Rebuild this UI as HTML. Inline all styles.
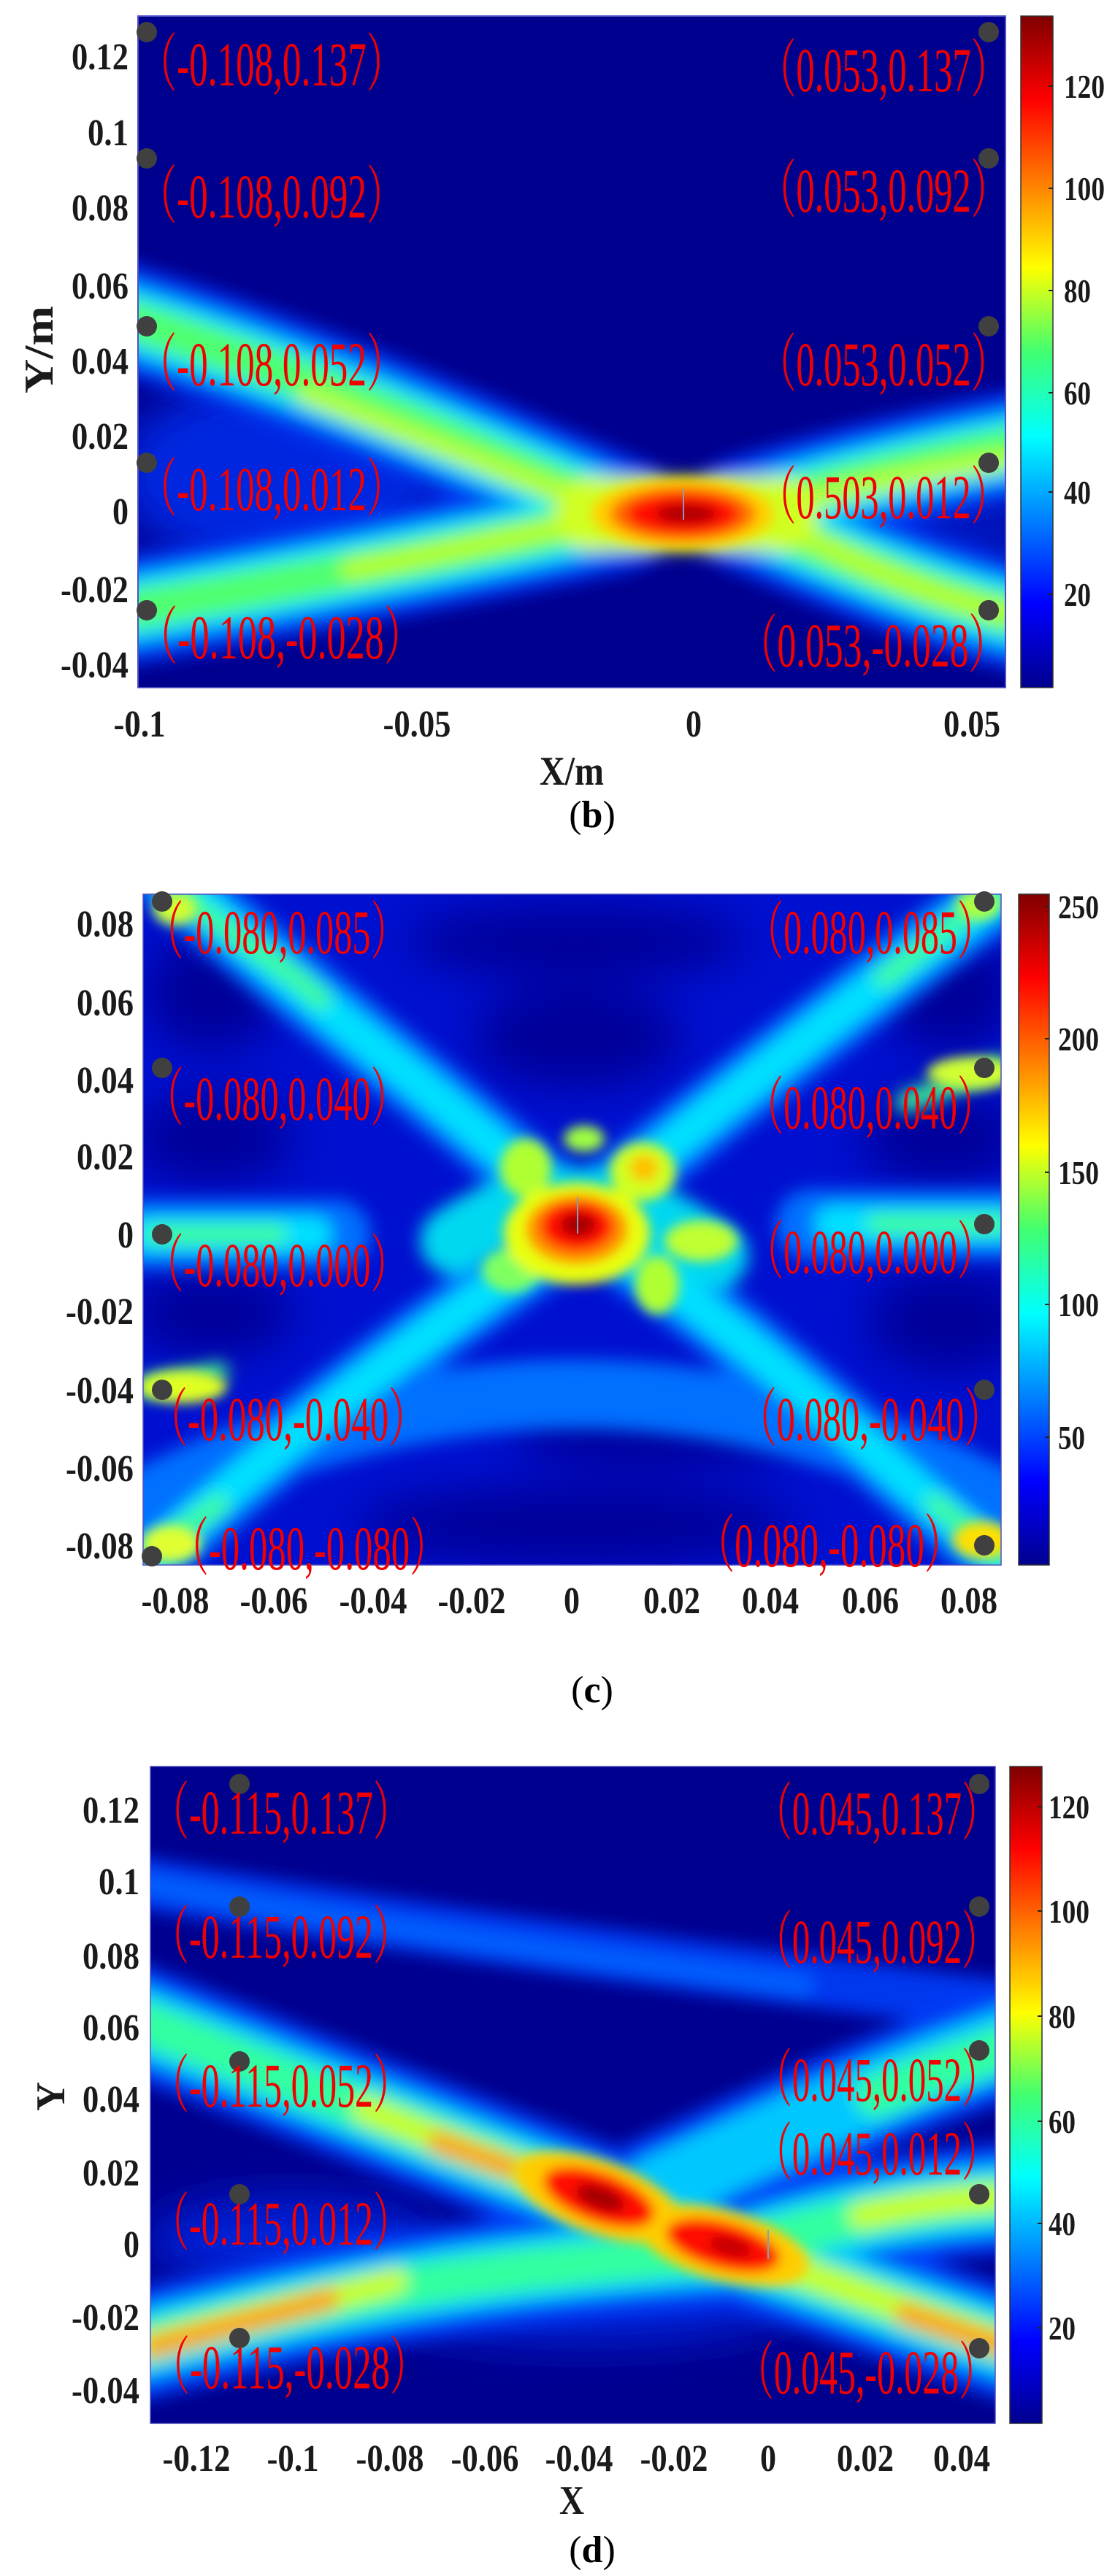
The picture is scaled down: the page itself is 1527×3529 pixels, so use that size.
<!DOCTYPE html>
<html><head><meta charset="utf-8"><style>
html,body{margin:0;padding:0;background:#fff;}
svg{display:block;}
.tk{font-family:"Liberation Serif",serif;font-weight:bold;font-size:52px;fill:#1a1a1a;}
.cb{font-family:"Liberation Serif",serif;font-weight:bold;font-size:46px;fill:#1a1a1a;}
.rl{font-family:"Liberation Serif","Noto Serif CJK SC",serif;font-size:86px;fill:#f00000;}
.ax{font-family:"Liberation Serif",serif;font-weight:bold;font-size:56px;fill:#1a1a1a;}
.cap{font-family:"Liberation Serif",serif;font-size:52px;fill:#000;}
</style></head><body>
<svg width="1527" height="3529" viewBox="0 0 1527 3529" xmlns="http://www.w3.org/2000/svg">
<defs>
<filter id="bl" x="-20%" y="-20%" width="140%" height="140%"><feGaussianBlur stdDeviation="12"/></filter>
<filter id="bl2" x="-50%" y="-50%" width="200%" height="200%"><feGaussianBlur stdDeviation="30"/></filter>
<filter id="bl3" x="-50%" y="-50%" width="200%" height="200%"><feGaussianBlur stdDeviation="8"/></filter>
<clipPath id="cpb"><rect x="189" y="22" width="1188" height="920"/></clipPath>
<clipPath id="cpc"><rect x="196" y="1225" width="1175" height="919"/></clipPath>
<clipPath id="cpd"><rect x="206" y="2420" width="1157" height="900"/></clipPath>
<linearGradient id="jet" x1="0" y1="1" x2="0" y2="0">
<stop offset="0" stop-color="#00008f"/><stop offset="0.125" stop-color="#0000ff"/>
<stop offset="0.375" stop-color="#00ffff"/><stop offset="0.5" stop-color="#40ff70"/><stop offset="0.625" stop-color="#ffff00"/>
<stop offset="0.875" stop-color="#ff0000"/><stop offset="1" stop-color="#800000"/></linearGradient>
</defs>

<!-- ===== PANEL B ===== -->
<g clip-path="url(#cpb)">
<rect x="189" y="22" width="1188" height="920" fill="#00008f"/>
<g filter="url(#bl2)"><ellipse cx="380" cy="650" rx="220" ry="130" fill="#0028e0"/><ellipse cx="1250" cy="730" rx="160" ry="90" fill="#0018c0"/></g>
<g filter="url(#bl)" fill="none" stroke-linecap="round">
<g stroke="#0030f0" stroke-width="150"><path d="M150,430 C450,520 700,640 850,700"/><path d="M150,840 C450,790 700,740 850,708"/><path d="M1020,700 C1150,660 1280,630 1420,605"/><path d="M1020,708 C1150,760 1280,820 1420,850"/></g>
<g stroke="#0090ff" stroke-width="105"><path d="M150,430 C450,520 700,640 850,700"/><path d="M150,840 C450,790 700,740 850,708"/><path d="M1020,700 C1150,660 1280,630 1420,605"/><path d="M1020,708 C1150,760 1280,820 1420,850"/></g>
<g stroke="#00e8ff" stroke-width="78"><path d="M150,430 C450,520 700,640 850,700"/><path d="M150,840 C450,790 700,740 850,708"/><path d="M1020,700 C1150,660 1280,630 1420,605"/><path d="M1020,708 C1150,760 1280,820 1420,850"/></g>
<g stroke="#50ff70" stroke-width="55"><path d="M150,430 C450,520 700,640 850,700"/><path d="M150,840 C450,790 700,740 850,708"/><path d="M1020,700 C1150,660 1280,630 1420,605"/><path d="M1020,708 C1150,760 1280,820 1420,850"/></g>
<g stroke="#b8ff28" stroke-width="28"><path d="M420,540 C600,610 720,660 850,700"/><path d="M480,780 C600,760 720,730 850,708"/><path d="M1050,700 C1150,670 1250,650 1377,630"/><path d="M1050,708 C1150,760 1250,810 1377,840"/></g>
<path d="M810,704 L1070,704" stroke="#d0ff20" stroke-width="100"/>
</g>
<g filter="url(#bl3)">
<ellipse cx="935" cy="704" rx="125" ry="48" fill="#ffd000"/>
<ellipse cx="935" cy="704" rx="100" ry="38" fill="#ff7000"/>
<ellipse cx="935" cy="704" rx="78" ry="28" fill="#ff1000"/>
<ellipse cx="940" cy="704" rx="42" ry="14" fill="#b00000"/>
</g>
<line x1="936" y1="670" x2="936" y2="712" stroke="#7fa0c0" stroke-width="2"/>
</g>
<rect x="189" y="22" width="1188" height="920" fill="none" stroke="#5050c0" stroke-width="2"/>
<g fill="#404040">
<circle cx="201" cy="44" r="14"/><circle cx="201" cy="217" r="14"/><circle cx="201" cy="447" r="14"/><circle cx="201" cy="634" r="14"/><circle cx="201" cy="836" r="14"/>
<circle cx="1354" cy="44" r="14"/><circle cx="1354" cy="217" r="14"/><circle cx="1354" cy="447" r="14"/><circle cx="1354" cy="634" r="14"/><circle cx="1354" cy="836" r="14"/>
</g>
<g class="rl" >
<text x="191" y="117" textLength="362" lengthAdjust="spacingAndGlyphs">（-0.108,0.137）</text>
<text x="191" y="298" textLength="362" lengthAdjust="spacingAndGlyphs">（-0.108,0.092）</text>
<text x="191" y="528" textLength="362" lengthAdjust="spacingAndGlyphs">（-0.108,0.052）</text>
<text x="191" y="699" textLength="362" lengthAdjust="spacingAndGlyphs">（-0.108,0.012）</text>
<text x="191" y="902" textLength="387" lengthAdjust="spacingAndGlyphs">（-0.108,-0.028）</text>
<text x="1040" y="125" textLength="340" lengthAdjust="spacingAndGlyphs">（0.053,0.137）</text>
<text x="1040" y="290" textLength="340" lengthAdjust="spacingAndGlyphs">（0.053,0.092）</text>
<text x="1040" y="528" textLength="340" lengthAdjust="spacingAndGlyphs">（0.053,0.052）</text>
<text x="1040" y="710" textLength="340" lengthAdjust="spacingAndGlyphs">（0.503,0.012）</text>
<text x="1013" y="913" textLength="365" lengthAdjust="spacingAndGlyphs">（0.053,-0.028）</text>
</g>
<g class="tk" text-anchor="end">
<text x="176" y="95" textLength="78" lengthAdjust="spacingAndGlyphs">0.12</text>
<text x="176" y="199" textLength="56" lengthAdjust="spacingAndGlyphs">0.1</text>
<text x="176" y="302" textLength="78" lengthAdjust="spacingAndGlyphs">0.08</text>
<text x="176" y="409" textLength="78" lengthAdjust="spacingAndGlyphs">0.06</text>
<text x="176" y="512" textLength="78" lengthAdjust="spacingAndGlyphs">0.04</text>
<text x="176" y="615" textLength="78" lengthAdjust="spacingAndGlyphs">0.02</text>
<text x="176" y="718" textLength="22" lengthAdjust="spacingAndGlyphs">0</text>
<text x="176" y="825" textLength="93" lengthAdjust="spacingAndGlyphs">-0.02</text>
<text x="176" y="928" textLength="93" lengthAdjust="spacingAndGlyphs">-0.04</text>
</g>
<g class="tk" text-anchor="middle">
<text x="191" y="1009" textLength="71" lengthAdjust="spacingAndGlyphs">-0.1</text>
<text x="571" y="1009" textLength="93" lengthAdjust="spacingAndGlyphs">-0.05</text>
<text x="950" y="1009" textLength="22" lengthAdjust="spacingAndGlyphs">0</text>
<text x="1331" y="1009" textLength="78" lengthAdjust="spacingAndGlyphs">0.05</text>
</g>
<text class="ax" x="783" y="1075" text-anchor="middle" textLength="88" lengthAdjust="spacingAndGlyphs">X/m</text>
<text class="ax" transform="translate(72,479) rotate(-90)" text-anchor="middle" textLength="120" lengthAdjust="spacingAndGlyphs">Y/m</text>
<text class="cap" x="811" y="1133" text-anchor="middle">(<tspan font-weight="bold">b</tspan>)</text>
<rect x="1398" y="22" width="44" height="920" fill="url(#jet)" stroke="#333" stroke-width="1.5"/>
<g stroke="#222" stroke-width="2"><line x1="1436" x2="1442" y1="118" y2="118"/><line x1="1436" x2="1442" y1="258" y2="258"/><line x1="1436" x2="1442" y1="398" y2="398"/><line x1="1436" x2="1442" y1="538" y2="538"/><line x1="1436" x2="1442" y1="674" y2="674"/><line x1="1436" x2="1442" y1="814" y2="814"/></g>
<g class="cb">
<text x="1457" y="134" textLength="56" lengthAdjust="spacingAndGlyphs">120</text>
<text x="1457" y="274" textLength="56" lengthAdjust="spacingAndGlyphs">100</text>
<text x="1457" y="414" textLength="37" lengthAdjust="spacingAndGlyphs">80</text>
<text x="1457" y="554" textLength="37" lengthAdjust="spacingAndGlyphs">60</text>
<text x="1457" y="690" textLength="37" lengthAdjust="spacingAndGlyphs">40</text>
<text x="1457" y="830" textLength="37" lengthAdjust="spacingAndGlyphs">20</text>
</g>

<!-- ===== PANEL C ===== -->
<g clip-path="url(#cpc)">
<rect x="196" y="1225" width="1175" height="919" fill="#0010d0"/>
<g filter="url(#bl2)" fill="#00009a">
<ellipse cx="790" cy="1290" rx="230" ry="50"/><ellipse cx="790" cy="1420" rx="140" ry="70"/>
<ellipse cx="290" cy="1560" rx="110" ry="60"/><ellipse cx="290" cy="1360" rx="90" ry="80"/>
<ellipse cx="1290" cy="1560" rx="110" ry="60"/><ellipse cx="1300" cy="1360" rx="90" ry="80"/>
<ellipse cx="290" cy="1800" rx="110" ry="60"/><ellipse cx="1300" cy="1810" rx="110" ry="70"/>
<ellipse cx="790" cy="2090" rx="300" ry="55"/><ellipse cx="900" cy="1960" rx="200" ry="50"/>
</g>
<g filter="url(#bl)" fill="none" stroke-linecap="round">
<g stroke="#0070ff" stroke-width="95"><path d="M230,1200 C400,1350 600,1500 760,1640"/><path d="M1400,1200 C1200,1350 1000,1500 830,1640"/><path d="M180,2160 C350,2000 550,1850 740,1720"/><path d="M1400,2160 C1200,2000 1050,1850 860,1720"/><path d="M196,1691 L460,1691"/><path d="M1110,1677 L1380,1677"/><path d="M196,2060 Q790,1760 1371,2060"/></g>
<g stroke="#00e0ff" stroke-width="50"><path d="M230,1200 C400,1350 600,1500 760,1640"/><path d="M1400,1200 C1200,1350 1000,1500 830,1640"/><path d="M180,2160 C350,2000 550,1850 740,1720"/><path d="M1400,2160 C1200,2000 1050,1850 860,1720"/><path d="M196,1691 L430,1691"/><path d="M1140,1677 L1380,1677"/></g>
<g stroke="#40ff90" stroke-width="26"><path d="M240,1220 C330,1290 400,1330 440,1370"/><path d="M1360,1220 C1300,1270 1250,1310 1210,1340"/><path d="M210,1691 L380,1691"/><path d="M1200,1677 L1371,1677"/><path d="M1371,1460 L1240,1510"/><path d="M200,1900 L300,1880"/><path d="M200,2130 L300,2060"/><path d="M1371,2130 L1280,2060"/></g>
<path d="M620,1700 Q790,1580 980,1720" stroke="#00d8f0" stroke-width="90"/>
</g>
<g filter="url(#bl3)">
<ellipse cx="720" cy="1600" rx="35" ry="40" fill="#b0ff30"/>
<ellipse cx="800" cy="1560" rx="28" ry="18" fill="#a0ff40"/>
<ellipse cx="880" cy="1605" rx="45" ry="40" fill="#d0ff20"/>
<ellipse cx="882" cy="1600" rx="20" ry="18" fill="#ffc000"/>
<ellipse cx="960" cy="1700" rx="50" ry="28" fill="#c0ff30"/>
<ellipse cx="700" cy="1740" rx="40" ry="30" fill="#80ff60"/>
<ellipse cx="900" cy="1760" rx="30" ry="40" fill="#b0ff30"/>
<ellipse cx="790" cy="1690" rx="100" ry="70" fill="#e8ff10"/>
<ellipse cx="790" cy="1684" rx="70" ry="48" fill="#ff9000"/>
<ellipse cx="790" cy="1680" rx="50" ry="34" fill="#ff1000"/>
<ellipse cx="792" cy="1678" rx="24" ry="16" fill="#a00000"/>
<ellipse cx="250" cy="1900" rx="60" ry="22" fill="#e0ff20"/>
<ellipse cx="1330" cy="1470" rx="60" ry="22" fill="#d0ff30"/>
<ellipse cx="240" cy="1245" rx="30" ry="22" fill="#d0ff30"/>
<ellipse cx="235" cy="2115" rx="40" ry="25" fill="#e0ff30"/>
<ellipse cx="1345" cy="2110" rx="40" ry="25" fill="#ffe000"/>
<ellipse cx="1340" cy="1240" rx="30" ry="20" fill="#b0ff40"/>
</g>
<line x1="791" y1="1640" x2="791" y2="1690" stroke="#7fa0c0" stroke-width="2"/>
</g>
<rect x="196" y="1225" width="1175" height="919" fill="none" stroke="#5050c0" stroke-width="1.5"/>
<g fill="#404040">
<circle cx="222" cy="1235" r="14"/><circle cx="222" cy="1463" r="14"/><circle cx="222" cy="1691" r="14"/><circle cx="222" cy="1904" r="14"/><circle cx="208" cy="2132" r="14"/>
<circle cx="1348" cy="1235" r="14"/><circle cx="1348" cy="1463" r="14"/><circle cx="1348" cy="1677" r="14"/><circle cx="1348" cy="1904" r="14"/><circle cx="1348" cy="2117" r="14"/>
</g>
<g class="rl">
<text x="201" y="1306" textLength="357" lengthAdjust="spacingAndGlyphs">（-0.080,0.085）</text>
<text x="201" y="1534" textLength="357" lengthAdjust="spacingAndGlyphs">（-0.080,0.040）</text>
<text x="201" y="1762" textLength="357" lengthAdjust="spacingAndGlyphs">（-0.080,0.000）</text>
<text x="206" y="1973" textLength="377" lengthAdjust="spacingAndGlyphs">（-0.080,-0.040）</text>
<text x="235" y="2150" textLength="377" lengthAdjust="spacingAndGlyphs">（-0.080,-0.080）</text>
<text x="1023" y="1306" textLength="338" lengthAdjust="spacingAndGlyphs">（0.080,0.085）</text>
<text x="1023" y="1546" textLength="338" lengthAdjust="spacingAndGlyphs">（0.080,0.040）</text>
<text x="1023" y="1744" textLength="338" lengthAdjust="spacingAndGlyphs">（0.080,0.000）</text>
<text x="1013" y="1973" textLength="358" lengthAdjust="spacingAndGlyphs">（0.080,-0.040）</text>
<text x="955" y="2146" textLength="362" lengthAdjust="spacingAndGlyphs">（0.080,-0.080）</text>
</g>
<g class="tk" text-anchor="end">
<text x="183" y="1283" textLength="78" lengthAdjust="spacingAndGlyphs">0.08</text>
<text x="183" y="1391" textLength="78" lengthAdjust="spacingAndGlyphs">0.06</text>
<text x="183" y="1497" textLength="78" lengthAdjust="spacingAndGlyphs">0.04</text>
<text x="183" y="1602" textLength="78" lengthAdjust="spacingAndGlyphs">0.02</text>
<text x="183" y="1709" textLength="22" lengthAdjust="spacingAndGlyphs">0</text>
<text x="183" y="1814" textLength="93" lengthAdjust="spacingAndGlyphs">-0.02</text>
<text x="183" y="1922" textLength="93" lengthAdjust="spacingAndGlyphs">-0.04</text>
<text x="183" y="2029" textLength="93" lengthAdjust="spacingAndGlyphs">-0.06</text>
<text x="183" y="2135" textLength="93" lengthAdjust="spacingAndGlyphs">-0.08</text>
</g>
<g class="tk" text-anchor="middle">
<text x="240" y="2210" textLength="93" lengthAdjust="spacingAndGlyphs">-0.08</text>
<text x="375" y="2210" textLength="93" lengthAdjust="spacingAndGlyphs">-0.06</text>
<text x="511" y="2210" textLength="93" lengthAdjust="spacingAndGlyphs">-0.04</text>
<text x="646" y="2210" textLength="93" lengthAdjust="spacingAndGlyphs">-0.02</text>
<text x="783" y="2210" textLength="22" lengthAdjust="spacingAndGlyphs">0</text>
<text x="920" y="2210" textLength="78" lengthAdjust="spacingAndGlyphs">0.02</text>
<text x="1055" y="2210" textLength="78" lengthAdjust="spacingAndGlyphs">0.04</text>
<text x="1192" y="2210" textLength="78" lengthAdjust="spacingAndGlyphs">0.06</text>
<text x="1327" y="2210" textLength="78" lengthAdjust="spacingAndGlyphs">0.08</text>
</g>
<text class="cap" x="811" y="2332" text-anchor="middle">(<tspan font-weight="bold">c</tspan>)</text>
<rect x="1395" y="1225" width="42" height="919" fill="url(#jet)" stroke="#333" stroke-width="1.5"/>
<g stroke="#222" stroke-width="2"><line x1="1431" x2="1437" y1="1242" y2="1242"/><line x1="1431" x2="1437" y1="1423" y2="1423"/><line x1="1431" x2="1437" y1="1606" y2="1606"/><line x1="1431" x2="1437" y1="1787" y2="1787"/><line x1="1431" x2="1437" y1="1969" y2="1969"/></g>
<g class="cb">
<text x="1449" y="1258" textLength="56" lengthAdjust="spacingAndGlyphs">250</text>
<text x="1449" y="1439" textLength="56" lengthAdjust="spacingAndGlyphs">200</text>
<text x="1449" y="1622" textLength="56" lengthAdjust="spacingAndGlyphs">150</text>
<text x="1449" y="1803" textLength="56" lengthAdjust="spacingAndGlyphs">100</text>
<text x="1449" y="1985" textLength="37" lengthAdjust="spacingAndGlyphs">50</text>
</g>

<!-- ===== PANEL D ===== -->
<g clip-path="url(#cpd)">
<rect x="206" y="2420" width="1157" height="900" fill="#00008f"/>
<g filter="url(#bl2)" fill="#0020d8"><ellipse cx="400" cy="3070" rx="200" ry="60"/><ellipse cx="800" cy="3150" rx="300" ry="60"/></g>
<g filter="url(#bl)" fill="none" stroke-linecap="round">
<path d="M180,2577 C600,2650 1000,2700 1390,2750" stroke="#0038f0" stroke-width="70"/>
<path d="M180,2577 C500,2640 800,2680 1100,2720" stroke="#0060ff" stroke-width="30"/>
<g stroke="#0040f8" stroke-width="150"><path d="M180,2765 C400,2850 600,2930 818,3012"/><path d="M818,3012 L991,3078"/><path d="M991,3078 C1150,3130 1280,3180 1390,3215"/><path d="M180,3215 C400,3160 600,3110 991,3085"/><path d="M1390,2795 C1200,2860 1050,2930 900,3000"/><path d="M1390,3010 C1250,3020 1150,3040 1050,3070"/></g>
<g stroke="#00c8ff" stroke-width="95"><path d="M180,2765 C400,2850 600,2930 818,3012"/><path d="M818,3012 L991,3078"/><path d="M991,3078 C1150,3130 1280,3180 1390,3215"/><path d="M180,3215 C400,3160 600,3110 991,3085"/><path d="M1390,2795 C1200,2860 1050,2930 900,3000"/><path d="M1390,3010 C1250,3020 1150,3040 1050,3070"/></g>
<g stroke="#30ffa0" stroke-width="60"><path d="M180,2765 C400,2850 600,2930 818,3012"/><path d="M818,3012 L991,3078"/><path d="M991,3078 C1150,3130 1280,3180 1390,3215"/><path d="M180,3215 C400,3160 600,3110 991,3085"/><path d="M1390,2800 C1300,2830 1250,2850 1200,2870"/><path d="M1390,3010 C1250,3020 1150,3040 1050,3070"/></g>
<g stroke="#c8ff20" stroke-width="36"><path d="M500,2890 C600,2930 700,2970 818,3012"/><path d="M1060,3100 C1150,3130 1280,3180 1390,3215"/><path d="M200,3215 C350,3170 450,3150 540,3125"/><path d="M1363,3010 C1280,3015 1230,3025 1180,3035"/></g>
<g stroke="#ffa000" stroke-width="30"><path d="M210,3215 C300,3190 380,3170 450,3150"/><path d="M1240,3170 C1300,3190 1340,3205 1380,3215"/><path d="M600,2935 L700,2970"/></g>
</g>
<g filter="url(#bl3)">
<ellipse cx="820" cy="3010" rx="120" ry="50" transform="rotate(20 820 3010)" fill="#ffcc00"/>
<ellipse cx="990" cy="3076" rx="120" ry="48" transform="rotate(15 990 3076)" fill="#ffcc00"/>
<ellipse cx="820" cy="3010" rx="80" ry="34" transform="rotate(20 820 3010)" fill="#ff1000"/>
<ellipse cx="990" cy="3076" rx="80" ry="32" transform="rotate(15 990 3076)" fill="#ff1000"/>
<ellipse cx="822" cy="3011" rx="35" ry="15" transform="rotate(20 822 3011)" fill="#a00000"/>
<ellipse cx="1000" cy="3078" rx="30" ry="12" transform="rotate(15 1000 3078)" fill="#c00000"/>
</g>
<line x1="1052" y1="3055" x2="1052" y2="3095" stroke="#7fa0c0" stroke-width="2"/>
</g>
<rect x="206" y="2420" width="1157" height="900" fill="none" stroke="#5050c0" stroke-width="1.5"/>
<g fill="#404040">
<circle cx="328" cy="2444" r="14"/><circle cx="328" cy="2612" r="14"/><circle cx="328" cy="2824" r="14"/><circle cx="328" cy="3006" r="14"/><circle cx="328" cy="3203" r="14"/>
<circle cx="1341" cy="2444" r="14"/><circle cx="1341" cy="2612" r="14"/><circle cx="1341" cy="2809" r="14"/><circle cx="1341" cy="3006" r="14"/><circle cx="1341" cy="3217" r="14"/>
</g>
<g class="rl">
<text x="209" y="2512" textLength="352" lengthAdjust="spacingAndGlyphs">（-0.115,0.137）</text>
<text x="209" y="2682" textLength="352" lengthAdjust="spacingAndGlyphs">（-0.115,0.092）</text>
<text x="209" y="2886" textLength="352" lengthAdjust="spacingAndGlyphs">（-0.115,0.052）</text>
<text x="209" y="3075" textLength="352" lengthAdjust="spacingAndGlyphs">（-0.115,0.012）</text>
<text x="209" y="3272" textLength="376" lengthAdjust="spacingAndGlyphs">（-0.115,-0.028）</text>
<text x="1036" y="2513" textLength="330" lengthAdjust="spacingAndGlyphs">（0.045,0.137）</text>
<text x="1036" y="2689" textLength="330" lengthAdjust="spacingAndGlyphs">（0.045,0.092）</text>
<text x="1036" y="2878" textLength="330" lengthAdjust="spacingAndGlyphs">（0.045,0.052）</text>
<text x="1036" y="2979" textLength="330" lengthAdjust="spacingAndGlyphs">（0.045,0.012）</text>
<text x="1010" y="3279" textLength="353" lengthAdjust="spacingAndGlyphs">（0.045,-0.028）</text>
</g>
<g class="tk" text-anchor="end">
<text x="191" y="2497" textLength="78" lengthAdjust="spacingAndGlyphs">0.12</text>
<text x="191" y="2595" textLength="56" lengthAdjust="spacingAndGlyphs">0.1</text>
<text x="191" y="2697" textLength="78" lengthAdjust="spacingAndGlyphs">0.08</text>
<text x="191" y="2795" textLength="78" lengthAdjust="spacingAndGlyphs">0.06</text>
<text x="191" y="2893" textLength="78" lengthAdjust="spacingAndGlyphs">0.04</text>
<text x="191" y="2994" textLength="78" lengthAdjust="spacingAndGlyphs">0.02</text>
<text x="191" y="3092" textLength="22" lengthAdjust="spacingAndGlyphs">0</text>
<text x="191" y="3192" textLength="93" lengthAdjust="spacingAndGlyphs">-0.02</text>
<text x="191" y="3292" textLength="93" lengthAdjust="spacingAndGlyphs">-0.04</text>
</g>
<g class="tk" text-anchor="middle">
<text x="269" y="3385" textLength="93" lengthAdjust="spacingAndGlyphs">-0.12</text>
<text x="401" y="3385" textLength="71" lengthAdjust="spacingAndGlyphs">-0.1</text>
<text x="534" y="3385" textLength="93" lengthAdjust="spacingAndGlyphs">-0.08</text>
<text x="664" y="3385" textLength="93" lengthAdjust="spacingAndGlyphs">-0.06</text>
<text x="793" y="3385" textLength="93" lengthAdjust="spacingAndGlyphs">-0.04</text>
<text x="923" y="3385" textLength="93" lengthAdjust="spacingAndGlyphs">-0.02</text>
<text x="1052" y="3385" textLength="22" lengthAdjust="spacingAndGlyphs">0</text>
<text x="1185" y="3385" textLength="78" lengthAdjust="spacingAndGlyphs">0.02</text>
<text x="1317" y="3385" textLength="78" lengthAdjust="spacingAndGlyphs">0.04</text>
</g>
<text class="ax" x="783" y="3444" text-anchor="middle" textLength="34" lengthAdjust="spacingAndGlyphs">X</text>
<text class="ax" transform="translate(88,2872) rotate(-90)" text-anchor="middle" textLength="40" lengthAdjust="spacingAndGlyphs">Y</text>
<text class="cap" x="811" y="3510" text-anchor="middle">(<tspan font-weight="bold">d</tspan>)</text>
<rect x="1383" y="2420" width="44" height="900" fill="url(#jet)" stroke="#333" stroke-width="1.5"/>
<g stroke="#222" stroke-width="2"><line x1="1421" x2="1427" y1="2475" y2="2475"/><line x1="1421" x2="1427" y1="2618" y2="2618"/><line x1="1421" x2="1427" y1="2762" y2="2762"/><line x1="1421" x2="1427" y1="2906" y2="2906"/><line x1="1421" x2="1427" y1="3046" y2="3046"/><line x1="1421" x2="1427" y1="3189" y2="3189"/></g>
<g class="cb">
<text x="1436" y="2491" textLength="56" lengthAdjust="spacingAndGlyphs">120</text>
<text x="1436" y="2634" textLength="56" lengthAdjust="spacingAndGlyphs">100</text>
<text x="1436" y="2778" textLength="37" lengthAdjust="spacingAndGlyphs">80</text>
<text x="1436" y="2922" textLength="37" lengthAdjust="spacingAndGlyphs">60</text>
<text x="1436" y="3062" textLength="37" lengthAdjust="spacingAndGlyphs">40</text>
<text x="1436" y="3205" textLength="37" lengthAdjust="spacingAndGlyphs">20</text>
</g>
</svg>
</body></html>
